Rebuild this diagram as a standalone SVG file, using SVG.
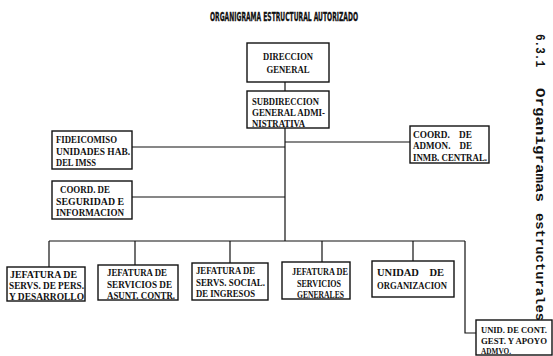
<svg xmlns="http://www.w3.org/2000/svg" width="553" height="356" viewBox="0 0 553 356">
<style>
.box{fill:#fff;stroke:#111;stroke-width:1.4}
.ln{fill:none;stroke:#111;stroke-width:1.2}
.t{font-family:"Liberation Serif",serif;font-weight:bold;font-size:10.4px;fill:#111}
.s{font-size:8.8px}
.title{font-family:"DejaVu Sans Condensed","DejaVu Sans",sans-serif;font-weight:bold;font-size:11.5px;fill:#111;stroke:#111;stroke-width:0.3}
.side{font-family:"Liberation Mono",monospace;font-weight:bold;font-size:13px;fill:#111}
</style>
<rect width="553" height="356" fill="#fff"/>
<text class="title" x="210" y="21" textLength="148" lengthAdjust="spacingAndGlyphs">ORGANIGRAMA ESTRUCTURAL AUTORIZADO</text>
<g id="side-label">
<text class="side" transform="translate(536,34) rotate(90)" textLength="33" lengthAdjust="spacingAndGlyphs">6.3.1</text>
<text class="side" transform="translate(536,88) rotate(90)" textLength="114" lengthAdjust="spacingAndGlyphs">Organigramas</text>
<text class="side" transform="translate(536,213) rotate(90)" textLength="108" lengthAdjust="spacingAndGlyphs">estructurales</text>
</g>
<g id="connectors">
<path class="ln" d="M285,82V91"/>
<path class="ln" d="M285,128V241"/>
<path class="ln" d="M132,147H285"/>
<path class="ln" d="M285,142H410"/>
<path class="ln" d="M132,197H285"/>
<path class="ln" d="M49,241H465"/>
<path class="ln" d="M49,241V267"/>
<path class="ln" d="M135,241V265"/>
<path class="ln" d="M230,241V263"/>
<path class="ln" d="M322,241V262"/>
<path class="ln" d="M413,241V261"/>
<path class="ln" d="M465,241V333H476"/>
</g>
<g id="direccion-general">
<rect class="box" x="247" y="43" width="82" height="39"/>
<text class="t" x="288" y="60" text-anchor="middle" textLength="50" lengthAdjust="spacingAndGlyphs">DIRECCION</text>
<text class="t" x="288" y="73" text-anchor="middle" textLength="43" lengthAdjust="spacingAndGlyphs">GENERAL</text>
</g>
<g id="subdireccion">
<rect class="box" x="247" y="91" width="82" height="37"/>
<text class="t" x="252" y="105" textLength="67" lengthAdjust="spacingAndGlyphs">SUBDIRECCION</text>
<text class="t" x="252" y="116" textLength="73" lengthAdjust="spacingAndGlyphs">GENERAL ADMI-</text>
<text class="t" x="252" y="127" textLength="53" lengthAdjust="spacingAndGlyphs">NISTRATIVA</text>
</g>
<g id="fideicomiso">
<rect class="box" x="52" y="131" width="80" height="38"/>
<text class="t" x="56" y="143" textLength="61" lengthAdjust="spacingAndGlyphs">FIDEICOMISO</text>
<text class="t" x="56" y="155" textLength="74" lengthAdjust="spacingAndGlyphs">UNIDADES HAB.</text>
<text class="t" x="56" y="166" textLength="40" lengthAdjust="spacingAndGlyphs">DEL IMSS</text>
</g>
<g id="coord-admon">
<rect class="box" x="410" y="126" width="79" height="37"/>
<text class="t" x="413" y="138" xml:space="preserve" textLength="59" lengthAdjust="spacingAndGlyphs">COORD.    DE</text>
<text class="t" x="413" y="149" xml:space="preserve" textLength="59" lengthAdjust="spacingAndGlyphs">ADMON.    DE</text>
<text class="t" x="413" y="161" textLength="74" lengthAdjust="spacingAndGlyphs">INMB. CENTRAL.</text>
</g>
<g id="coord-seguridad">
<rect class="box" x="52" y="181" width="80" height="38"/>
<text class="t" x="60" y="193" textLength="50" lengthAdjust="spacingAndGlyphs">COORD. DE</text>
<text class="t" x="56" y="205" textLength="68" lengthAdjust="spacingAndGlyphs">SEGURIDAD E</text>
<text class="t" x="56" y="216" textLength="68" lengthAdjust="spacingAndGlyphs">INFORMACION</text>
</g>
<g id="jefatura-personal">
<rect class="box" x="7" y="267" width="78" height="34"/>
<text class="t" x="10" y="278" textLength="67" lengthAdjust="spacingAndGlyphs">JEFATURA DE</text>
<text class="t" x="9" y="289" textLength="75" lengthAdjust="spacingAndGlyphs">SERVS. DE PERS.</text>
<text class="t" x="9" y="300" textLength="75" lengthAdjust="spacingAndGlyphs">Y DESARROLLO</text>
</g>
<g id="jefatura-asuntos">
<rect class="box" x="98" y="265" width="80" height="35"/>
<text class="t" x="107" y="276" textLength="60" lengthAdjust="spacingAndGlyphs">JEFATURA DE</text>
<text class="t" x="107" y="288" textLength="65" lengthAdjust="spacingAndGlyphs">SERVICIOS DE</text>
<text class="t" x="107" y="299" textLength="68" lengthAdjust="spacingAndGlyphs">ASUNT. CONTR.</text>
</g>
<g id="jefatura-social">
<rect class="box" x="192" y="263" width="76" height="37"/>
<text class="t" x="196" y="274" textLength="59" lengthAdjust="spacingAndGlyphs">JEFATURA DE</text>
<text class="t" x="196" y="286" textLength="69" lengthAdjust="spacingAndGlyphs">SERVS. SOCIAL.</text>
<text class="t" x="196" y="297" textLength="59" lengthAdjust="spacingAndGlyphs">DE INGRESOS</text>
</g>
<g id="jefatura-generales">
<rect class="box" x="282" y="262" width="68" height="37"/>
<text class="t" x="292" y="275" textLength="56" lengthAdjust="spacingAndGlyphs">JEFATURA DE</text>
<text class="t" x="297" y="287" textLength="44" lengthAdjust="spacingAndGlyphs">SERVICIOS</text>
<text class="t" x="297" y="298" textLength="47" lengthAdjust="spacingAndGlyphs">GENERALES</text>
</g>
<g id="unidad-organizacion">
<rect class="box" x="372" y="261" width="82" height="36"/>
<text class="t" x="377" y="276" xml:space="preserve" textLength="67" lengthAdjust="spacingAndGlyphs">UNIDAD    DE</text>
<text class="t" x="377" y="289" textLength="70" lengthAdjust="spacingAndGlyphs">ORGANIZACION</text>
</g>
<g id="unidad-control">
<rect class="box" x="476" y="320" width="76" height="35"/>
<text class="t s" x="481" y="333" textLength="66" lengthAdjust="spacingAndGlyphs">UNID. DE CONT.</text>
<text class="t s" x="481" y="344" textLength="66" lengthAdjust="spacingAndGlyphs">GEST. Y APOYO</text>
<text class="t s" x="481" y="354" textLength="30" lengthAdjust="spacingAndGlyphs">ADMVO.</text>
</g>
</svg>
